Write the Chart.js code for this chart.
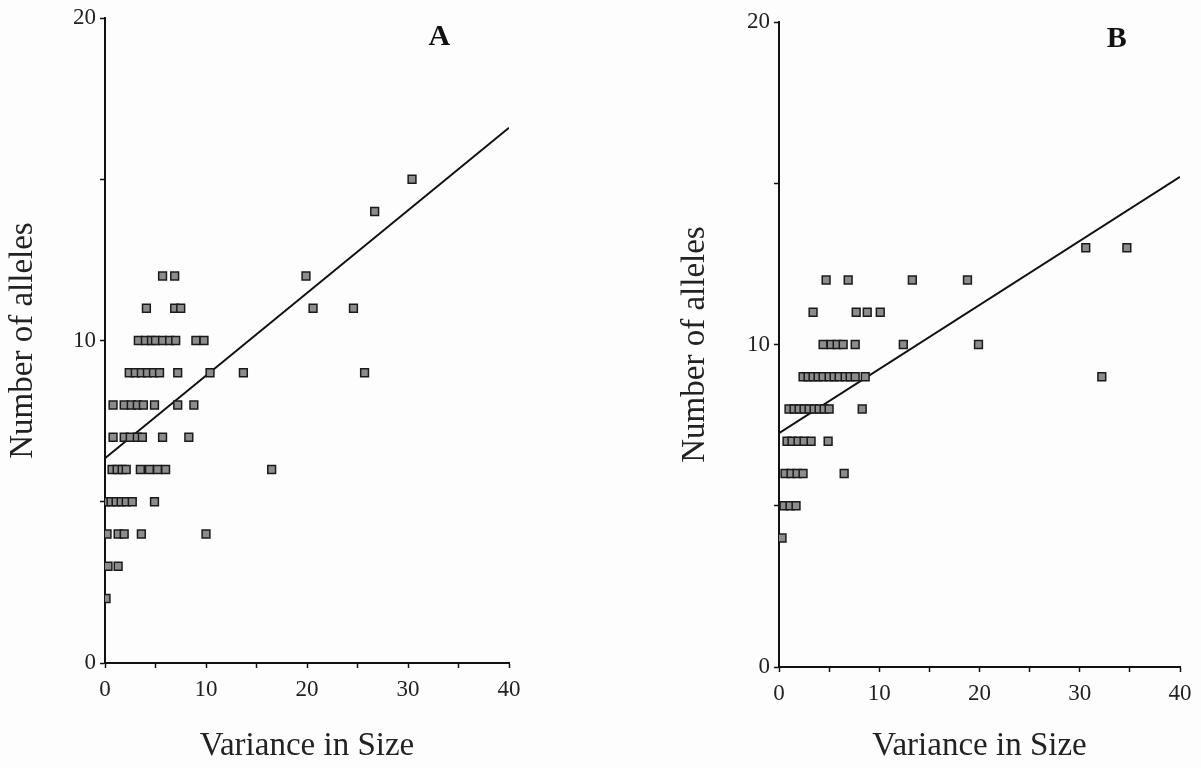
<!DOCTYPE html>
<html>
<head>
<meta charset="utf-8">
<script src="https://cdn.jsdelivr.net/npm/chart.js@4.4.0/dist/chart.umd.min.js"></script>
<style>
  body { margin: 0; background: #fdfdfd; }
  #wrap { position: relative; width: 1201px; height: 768px; }
  .panel { position: absolute; top: 0; height: 768px; }
</style>
</head>
<body>
<div id="wrap">
  <div class="panel" style="left:0;width:600px"><canvas id="chartA"></canvas></div>
  <div class="panel" style="left:600px;width:601px"><canvas id="chartB"></canvas></div>
</div>
<script>
// panel A: variance in size vs number of alleles
const aX = [30.4, 26.7,
  5.7, 6.9, 19.9,
  4.1, 6.9, 7.5, 20.6, 24.6,
  3.3, 4.0, 4.6, 5.0, 5.7, 6.4, 7.0, 9.0, 9.8,
  2.4, 3.0, 3.6, 4.2, 4.8, 5.4, 7.2, 10.4, 13.7, 25.7,
  0.8, 1.9, 2.6, 3.2, 3.8, 4.9, 7.2, 8.8,
  0.8, 1.9, 2.5, 3.2, 3.7, 5.7, 8.3,
  0.7, 1.2, 1.7, 2.1, 3.5, 4.4, 5.2, 6.0, 16.5,
  0.1, 0.6, 1.1, 1.6, 2.1, 2.7, 4.9,
  0.2, 1.3, 1.9, 3.6, 10.0,
  0.3, 1.3,
  0.1];
const aY = [15, 14,
  12, 12, 12,
  11, 11, 11, 11, 11,
  10, 10, 10, 10, 10, 10, 10, 10, 10,
  9, 9, 9, 9, 9, 9, 9, 9, 9, 9,
  8, 8, 8, 8, 8, 8, 8, 8,
  7, 7, 7, 7, 7, 7, 7,
  6, 6, 6, 6, 6, 6, 6, 6, 6,
  5, 5, 5, 5, 5, 5, 5,
  4, 4, 4, 4, 4,
  3, 3,
  2];
const fitAX = [0, 40];
const fitAY = [6.35, 16.6];

// panel B
const bX = [30.6, 34.7,
  4.7, 6.9, 13.3, 18.8,
  3.4, 7.7, 8.8, 10.1,
  4.4, 5.2, 5.8, 6.4, 7.6, 12.4, 19.9,
  2.4, 2.9, 3.4, 3.9, 4.4, 5.0, 5.5, 6.0, 6.6, 7.1, 7.6, 8.6, 32.2,
  1.0, 1.5, 2.0, 2.5, 3.0, 3.5, 4.0, 4.5, 5.0, 8.3,
  0.8, 1.3, 1.9, 2.5, 3.2, 4.9,
  0.6, 1.2, 1.8, 2.4, 6.5,
  0.5, 1.1, 1.7,
  0.3];
const bY = [13, 13,
  12, 12, 12, 12,
  11, 11, 11, 11,
  10, 10, 10, 10, 10, 10, 10,
  9, 9, 9, 9, 9, 9, 9, 9, 9, 9, 9, 9, 9,
  8, 8, 8, 8, 8, 8, 8, 8, 8, 8,
  7, 7, 7, 7, 7, 7,
  6, 6, 6, 6, 6,
  5, 5, 5,
  4];
const fitBX = [0, 40];
const fitBY = [7.25, 15.2];

const xTitle = "Variance in Size";
const yTitle = "Number of alleles";

const serif = "'Liberation Serif', 'Times New Roman', serif";

function pts(xs, ys) {
  return xs.map((x, i) => ({ x: x, y: ys[i] }));
}

// draws the bold panel letter in data space
const panelLetter = {
  id: "panelLetter",
  afterDraw(chart, args, opts) {
    const ctx = chart.ctx;
    const px = chart.scales.x.getPixelForValue(opts.x);
    const py = chart.scales.y.getPixelForValue(opts.y);
    ctx.save();
    ctx.font = "bold 30px " + serif;
    ctx.fillStyle = "#111";
    ctx.textAlign = "center";
    ctx.textBaseline = "middle";
    ctx.fillText(opts.text, px, py);
    ctx.restore();
  }
};

function makeChart(id, xs, ys, fx, fy, letter, pad, yAxisW, xAxisH) {
  const ctx = document.getElementById(id);
  return new Chart(ctx, {
    type: "scatter",
    data: {
      datasets: [
        {
          data: pts(xs, ys),
          pointStyle: "rect",
          pointRadius: 5.5,
          backgroundColor: "#8c8c8c",
          borderColor: "#1a1a1a",
          borderWidth: 1.5
        },
        {
          type: "line",
          data: pts(fx, fy),
          borderColor: "#111",
          borderWidth: 2,
          pointRadius: 0,
          fill: false
        }
      ]
    },
    options: {
      responsive: true,
      maintainAspectRatio: false,
      animation: false,
      layout: { padding: pad },
      plugins: {
        legend: { display: false },
        tooltip: { enabled: false },
        panelLetter: letter
      },
      scales: {
        x: {
          type: "linear",
          min: 0, max: 40,
          border: { display: true, color: "#111", width: 2 },
          grid: { display: true, drawOnChartArea: false, drawTicks: true, tickLength: 5, color: "#111", tickWidth: 1.5 },
          ticks: {
            stepSize: 5,
            color: "#222",
            padding: 8,
            maxRotation: 0,
            font: { family: serif, size: 23 },
            callback: (v) => (v % 10 === 0 ? v : "")
          },
          title: {
            display: true,
            text: xTitle,
            color: "#222",
            font: { family: serif, size: 33 },
            padding: { top: 0, bottom: 2 }
          },
          afterFit: (s) => { s.height = xAxisH; }
        },
        y: {
          type: "linear",
          min: 0, max: 20,
          border: { display: true, color: "#111", width: 2 },
          grid: { display: true, drawOnChartArea: false, drawTicks: true, tickLength: 5, color: "#111", tickWidth: 1.5 },
          ticks: {
            stepSize: 5,
            color: "#222",
            padding: 4,
            font: { family: serif, size: 23 },
            callback: (v) => (v % 10 === 0 ? v : "")
          },
          title: {
            display: true,
            text: yTitle,
            color: "#222",
            font: { family: serif, size: 33 },
            padding: { top: 4, bottom: 0 }
          },
          afterFit: (s) => { s.width = yAxisW; }
        }
      }
    },
    plugins: [panelLetter]
  });
}

makeChart("chartA", aX, aY, fitAX, fitAY,
  { text: "A", x: 33.1, y: 19.4 },
  { left: 0, top: 18, right: 91, bottom: 0 }, 105, 105);

makeChart("chartB", bX, bY, fitBX, fitBY,
  { text: "B", x: 33.7, y: 19.45 },
  { left: 72, top: 22, right: 21, bottom: 0 }, 107, 101);
</script>
</body>
</html>
